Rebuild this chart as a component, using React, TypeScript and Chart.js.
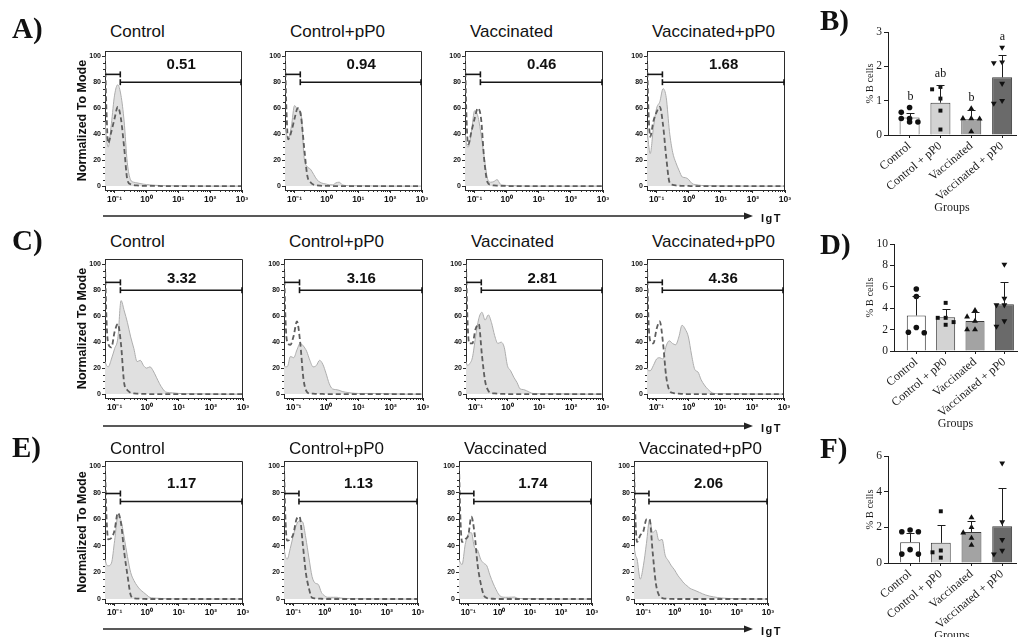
import React, { useEffect, useRef } from "react";
import { Chart, registerables } from "chart.js";
Chart.register(...registerables);

const SANS = '"Liberation Sans", Arial, Helvetica, sans-serif';
const SERIF = '"Liberation Serif", "Times New Roman", Times, serif';

// ---------- histogram data (x in log10 units of IgT, y = % of mode) ----------
const logX = [-1.3, -1.25, -1.2, -1.1, -1.0, -0.9, -0.8, -0.7, -0.6, -0.5, -0.4, -0.3, -0.2, -0.1, 0, 0.1, 0.2, 0.3, 0.4, 0.5, 0.6, 0.8, 1.0, 1.5, 2.0, 2.5, 3.0];
const xTickValues = [-1, 0, 1, 2, 3];
const xTickLabels = ["10⁻¹", "10⁰", "10¹", "10²", "10³"];
const yTickValues = [0, 20, 40, 60, 80, 100];
const histTitles = ["Control", "Control+pP0", "Vaccinated", "Vaccinated+pP0"];
const gateLogX = -0.82;

const fillA1 = [50, 36, 30, 48, 70, 78, 70, 50, 18, 5, 3, 2.5, 2, 1.5, 1.2, 1, 0.8, 0.6, 0.5, 0.4, 0.3, 0.2, 0.2, 0.1, 0, 0, 0];
const dashA1 = [100, 55, 33, 42, 52, 61, 52, 30, 5, 1.5, 0.8, 0.5, 0.3, 0.2, 0.2, 0.1, 0.1, 0.1, 0.1, 0, 0, 0, 0, 0, 0, 0, 0];
const fillA2 = [45, 40, 36, 46, 62, 59, 57, 22, 15, 13, 9, 5, 3, 2, 1.5, 1, 1, 2.5, 3, 1, 0.5, 0.3, 0.2, 0.1, 0, 0, 0];
const dashA2 = [100, 55, 36, 42, 52, 60, 54, 30, 8, 3, 1, 0.5, 0.3, 0.2, 0.1, 0.1, 0, 0, 0, 0, 0, 0, 0, 0, 0, 0, 0];
const fillA3 = [40, 32, 30, 42, 58, 54, 40, 22, 6, 3, 3.5, 5, 1.5, 0.8, 0.5, 0.4, 0.3, 0.2, 0.2, 0.1, 0.1, 0, 0, 0, 0, 0, 0];
const dashA3 = [100, 50, 32, 42, 52, 60, 52, 20, 3, 1, 0.5, 0.3, 0.2, 0.1, 0.1, 0, 0, 0, 0, 0, 0, 0, 0, 0, 0, 0, 0];
const fillA4 = [45, 32, 25, 45, 60, 65, 75, 68, 42, 26, 18, 12, 7, 6.5, 5, 2, 1.2, 0.8, 0.5, 0.4, 0.3, 0.2, 0.1, 0.1, 0, 0, 0];
const dashA4 = [100, 55, 38, 50, 57, 61, 47, 22, 3, 1, 0.5, 0.3, 0.2, 0.1, 0.1, 0, 0, 0, 0, 0, 0, 0, 0, 0, 0, 0, 0];

const fillC1 = [25, 22, 21, 27, 35, 43, 72, 64, 55, 44, 35, 25, 26, 22, 20, 21, 18, 13, 8, 4, 1.5, 1, 0.5, 0.2, 0.1, 0, 0];
const dashC1 = [100, 55, 39, 36, 48, 54, 38, 8, 3, 1, 0.5, 0.3, 0.2, 0.1, 0.1, 0, 0, 0, 0, 0, 0, 0, 0, 0, 0, 0, 0];
const fillC2 = [22, 21, 21, 29, 28, 34, 39, 37, 33, 26, 21, 22, 26, 23, 16, 8, 4, 3.5, 3, 2, 1.5, 0.8, 0.5, 0.5, 0.2, 0, 0];
const dashC2 = [100, 55, 40, 38, 45, 56, 40, 12, 2, 0.5, 0.3, 0.2, 0.1, 0.1, 0, 0, 0, 0, 0, 0, 0, 0, 0, 0, 0, 0, 0];
const fillC3 = [25, 22, 23, 28, 44, 58, 63, 57, 61, 55, 45, 39, 40, 36, 22, 18, 13, 9, 4, 3.5, 2.6, 0.5, 0.3, 0.2, 0.1, 0, 0];
const dashC3 = [100, 55, 39, 39, 50, 54, 30, 10, 2.6, 1, 0.5, 0.3, 0.2, 0.1, 0, 0, 0, 0, 0, 0, 0, 0, 0, 0, 0, 0, 0];
const fillC4 = [20, 18, 18, 22, 27, 28, 27, 37, 41, 39, 38, 44, 53, 50, 44, 30, 19, 17, 11, 7, 4, 0.5, 0.3, 0.2, 0.1, 0, 0];
const dashC4 = [100, 55, 41, 39, 50, 56, 40, 14, 3, 1, 0.5, 0.3, 0.2, 0.1, 0, 0, 0, 0, 0, 0, 0, 0, 0, 0, 0, 0, 0];

const fillE1 = [30, 26, 25, 27, 44, 62, 59, 46, 32, 20, 14, 10, 7, 5, 3, 1.2, 0.8, 0.6, 0.5, 0.3, 0.2, 0.1, 0.1, 0, 0, 0, 0];
const dashE1 = [100, 60, 45, 46, 52, 65, 57, 35, 18, 3, 0.5, 0.3, 0.2, 0.1, 0, 0, 0, 0, 0, 0, 0, 0, 0, 0, 0, 0, 0];
const fillE2 = [38, 32, 30, 38, 48, 56, 59, 58, 46, 31, 17, 12, 11, 5, 2.5, 1.3, 1.3, 1.3, 1.3, 0.8, 0.5, 0.3, 0.2, 0.1, 0, 0, 0];
const dashE2 = [100, 58, 44, 45, 49, 60, 62, 42, 20, 8, 1, 0.5, 0.3, 0.2, 0.1, 0, 0, 0, 0, 0, 0, 0, 0, 0, 0, 0, 0];
const fillE3 = [30, 27, 26, 41, 49, 50, 39, 37, 30, 27, 25, 18, 12, 7, 3, 1.5, 1.3, 1.3, 1.4, 1.5, 0.5, 0.3, 0.2, 0.1, 0, 0, 0];
const dashE3 = [100, 58, 43, 45, 48, 62, 50, 26, 12, 3, 0.8, 0.3, 0.2, 0.1, 0, 0, 0, 0, 0, 0, 0, 0, 0, 0, 0, 0, 0];
const fillE4 = [40, 33, 30, 15, 25, 42, 60, 50, 52, 44, 45, 33, 29, 25, 22, 18, 15, 12, 10, 8, 7, 5, 3, 0.8, 0.2, 0, 0];
const dashE4 = [100, 58, 43, 48, 51, 60, 60, 35, 12, 3, 0.8, 0.3, 0.2, 0.1, 0, 0, 0, 0, 0, 0, 0, 0, 0, 0, 0, 0, 0];

const pctRowA = ["0.51", "0.94", "0.46", "1.68"];
const pctRowC = ["3.32", "3.16", "2.81", "4.36"];
const pctRowE = ["1.17", "1.13", "1.74", "2.06"];

// gate levels (% of mode) per row: small bracket, main gate, label
const gateUpper = [86, 86, 79.5];
const gateMain = [80, 80, 73.5];
const gateLabel = [93, 89, 86.5];

// ---------- bar chart data ----------
const barGroups = ["Control", "Control + pP0", "Vaccinated", "Vaccinated + pP0"];
const barColors = ["#ffffff", "#d3d3d3", "#a3a3a3", "#6a6a6a"];
const markerStyles = ["circle", "rect", "triangle", "triangle"];
const markerRot = [0, 0, 0, 180];

const meanB = [0.51, 0.94, 0.46, 1.68];
const sdB = [0.12, 0.51, 0.27, 0.64];
const ptsB = [
  [0.80, 0.66, 0.48, 0.48, 0.38, 0.38],
  [1.40, 1.33, 1.06, 0.71, 0.16],
  [0.77, 0.48, 0.48, 0.47, 0.10],
  [2.55, 2.12, 2.10, 1.50, 1.00, 0.92],
];
const lettersB = ["b", "ab", "b", "a"];

const meanD = [3.32, 3.16, 2.81, 4.36];
const sdD = [1.8, 0.8, 0.8, 2.1];
const ptsD = [
  [5.8, 5.1, 2.2, 1.75, 1.7],
  [4.5, 3.1, 3.1, 2.7, 2.45],
  [3.8, 3.2, 2.8, 2.0, 2.0],
  [8.1, 4.9, 4.3, 4.3, 2.8, 2.3],
];

const meanF = [1.17, 1.13, 1.74, 2.06];
const sdF = [0.5, 1.0, 0.6, 2.13];
const ptsF = [
  [1.85, 1.75, 1.75, 0.75, 0.5, 0.5],
  [2.9, 0.7, 0.6, 0.3],
  [2.55, 2.0, 1.7, 1.4, 1.0],
  [5.6, 2.3, 1.3, 0.7, 0.5],
];

// ---------- layout ----------
const histRows = [
  { top: 51, bottom: 190, titleY: 31, arrowY: 216, lefts: [105, 285, 465, 647], rights: [242, 422, 603, 785], fills: [fillA1, fillA2, fillA3, fillA4], dashes: [dashA1, dashA2, dashA3, dashA4], pcts: pctRowA },
  { top: 259, bottom: 398, titleY: 241, arrowY: 426, lefts: [105, 284, 466, 647], rights: [243, 423, 603, 784], fills: [fillC1, fillC2, fillC3, fillC4], dashes: [dashC1, dashC2, dashC3, dashC4], pcts: pctRowC },
  { top: 461, bottom: 603, titleY: 448, arrowY: 629, lefts: [105, 284, 459, 634], rights: [243, 418, 592, 768], fills: [fillE1, fillE2, fillE3, fillE4], dashes: [dashE1, dashE2, dashE3, dashE4], pcts: pctRowE },
];

function line(ctx: any, x1: number, y1: number, x2: number, y2: number) {
  ctx.beginPath();
  ctx.moveTo(x1, y1);
  ctx.lineTo(x2, y2);
  ctx.stroke();
}

function HistPanel(props: any) {
  const { L, R, top, bottom, yTitle, fill, dash, pct, rowIdx } = props;
  const ref = useRef<HTMLCanvasElement>(null);
  const yw = yTitle ? 30 : 25;
  const padT = 8, padR = 10, xh = 24;
  const cw = yw + (R - L) + padR;
  const ch = padT + (bottom - top) + xh;
  useEffect(() => {
    const deco = {
      id: "histDeco",
      afterDraw(chart: any) {
        const { ctx, chartArea: a, scales } = chart;
        const x = scales.x, y = scales.y;
        ctx.save();
        ctx.strokeStyle = "#2b2b2b";
        ctx.lineWidth = 1;
        ctx.beginPath();
        ctx.moveTo(a.left, Math.round(a.top) + 0.5);
        ctx.lineTo(Math.round(a.right) - 0.5, Math.round(a.top) + 0.5);
        ctx.lineTo(Math.round(a.right) - 0.5, a.bottom);
        ctx.stroke();
        for (let v = 5; v < 100; v += 5) {
          if (v % 20 === 0) continue;
          const py = Math.round(y.getPixelForValue(v)) + 0.5;
          line(ctx, a.left - 2, py, a.left, py);
        }
        for (let d = -2; d <= 2; d++) {
          for (let k = 2; k <= 9; k++) {
            const lv = d + Math.log10(k);
            if (lv < -1.3 || lv > 3) continue;
            const px = Math.round(x.getPixelForValue(lv)) + 0.5;
            line(ctx, px, a.bottom, px, a.bottom + 2);
          }
        }
        const gx = x.getPixelForValue(gateLogX);
        const ym = y.getPixelForValue(gateMain[rowIdx]);
        const yu = y.getPixelForValue(gateUpper[rowIdx]);
        ctx.strokeStyle = "#161616";
        ctx.lineWidth = 1.6;
        line(ctx, gx, ym, a.right, ym);
        line(ctx, gx, ym - 3, gx, ym + 3);
        line(ctx, a.right - 1, ym - 3, a.right - 1, ym + 3);
        line(ctx, a.left, yu, gx, yu);
        line(ctx, gx, yu - 3, gx, yu + 3);
        ctx.fillStyle = "#111";
        ctx.font = `bold 15px ${SANS}`;
        ctx.textAlign = "center";
        ctx.textBaseline = "middle";
        ctx.fillText(pct, (gx + a.right) / 2, y.getPixelForValue(gateLabel[rowIdx]));
        ctx.restore();
      },
    };
    const chart = new Chart(ref.current as any, {
      type: "line",
      data: {
        datasets: [
          {
            data: logX.map((v, i) => ({ x: v, y: dash[i] })),
            borderColor: "#5e5e5e",
            borderDash: [5, 3],
            borderWidth: 1.8,
            pointRadius: 0,
            fill: false,
            cubicInterpolationMode: "monotone",
          },
          {
            data: logX.map((v, i) => ({ x: v, y: fill[i] })),
            borderColor: "#adadad",
            backgroundColor: "#e0e0e0",
            borderWidth: 1,
            pointRadius: 0,
            fill: "origin",
            cubicInterpolationMode: "monotone",
          },
        ],
      },
      options: {
        animation: false,
        responsive: false,
        devicePixelRatio: 1,
        layout: { padding: { left: 0, top: padT, right: padR, bottom: 0 } },
        plugins: { legend: { display: false }, tooltip: { enabled: false } },
        scales: {
          x: {
            type: "linear",
            min: -1.3,
            max: 3,
            afterBuildTicks: (s: any) => { s.ticks = xTickValues.map((v) => ({ value: v })); },
            afterFit: (s: any) => { s.height = xh; s.paddingLeft = 0; s.paddingRight = 0; },
            ticks: {
              autoSkip: false,
              maxRotation: 0,
              minRotation: 0,
              padding: 2,
              color: "#111",
              font: { family: SANS, size: 8.5, weight: "bold" },
              callback: (v: any) => xTickLabels[xTickValues.indexOf(Number(v))],
            },
            grid: { drawOnChartArea: false, tickLength: 3, color: "#2b2b2b" },
            border: { color: "#2b2b2b", width: 1 },
          },
          y: {
            min: -3,
            max: 104,
            afterBuildTicks: (s: any) => { s.ticks = yTickValues.map((v) => ({ value: v })); },
            afterFit: (s: any) => { s.width = yw; s.paddingTop = 0; s.paddingBottom = 0; },
            ticks: {
              padding: 1,
              color: "#111",
              font: { family: SANS, size: 7, weight: "bold" },
              callback: (v: any) => String(v),
            },
            title: {
              display: !!yTitle,
              text: "Normalized To Mode",
              color: "#111",
              padding: { top: 0, bottom: 0 },
              font: { family: SANS, size: 12.5, weight: "bold" },
            },
            grid: { drawOnChartArea: false, tickLength: 3, color: "#2b2b2b" },
            border: { color: "#2b2b2b", width: 1 },
          },
        },
      } as any,
      plugins: [deco],
    });
    return () => chart.destroy();
  }, []);
  return (
    <canvas
      ref={ref}
      width={cw}
      height={ch}
      style={{ position: "absolute", left: L - yw, top: top - padT, width: cw, height: ch }}
    />
  );
}

function swarm(vals: number[], tol: number): number[] {
  const order = vals.map((_, i) => i).sort((a, b) => vals[b] - vals[a]);
  const placed: { x: number; y: number }[] = [];
  const off = vals.map(() => 0);
  const cands = [0, -0.27, 0.27, -0.45, 0.45];
  for (const i of order) {
    for (const c of cands) {
      if (placed.every((p) => Math.abs(p.y - vals[i]) >= tol || Math.abs(p.x - c) >= 0.22)) {
        off[i] = c;
        placed.push({ x: c, y: vals[i] });
        break;
      }
    }
  }
  return off;
}

function BarPanel({ cfg }: any) {
  const ref = useRef<HTMLCanvasElement>(null);
  const { canvasLeft, canvasRight, axisX, plotTop, plotBottom, plotRight, xMin, xMax, yMax, yStep, means, sds, points, letters } = cfg;
  const padT = 12, xh = 83;
  const yw = axisX - canvasLeft;
  const cw = canvasRight - canvasLeft;
  const padR = canvasRight - plotRight;
  const ch = padT + (plotBottom - plotTop) + xh;
  useEffect(() => {
    const deco = {
      id: "barDeco",
      afterDatasetsDraw(chart: any) {
        const { ctx, scales } = chart;
        const x = scales.x, y = scales.y;
        ctx.save();
        ctx.strokeStyle = "#1e1e1e";
        ctx.lineWidth = 1;
        means.forEach((m: number, i: number) => {
          const px = Math.round(x.getPixelForValue(i)) + 0.5;
          const y0 = y.getPixelForValue(m);
          const y1 = Math.round(y.getPixelForValue(m + sds[i])) + 0.5;
          line(ctx, px, y0, px, y1);
          line(ctx, px - 4, y1, px + 4, y1);
          if (letters) {
            const topV = Math.max(m + sds[i], ...points[i]);
            ctx.fillStyle = "#111";
            ctx.font = `12px ${SERIF}`;
            ctx.textAlign = "center";
            ctx.textBaseline = "middle";
            ctx.fillText(letters[i], px, y.getPixelForValue(topV) - 11);
          }
        });
        ctx.restore();
      },
    };
    const scatterSets = points.map((vals: number[], g: number) => {
      const off = swarm(vals, yMax * 0.06);
      return {
        type: "scatter",
        order: 0,
        data: vals.map((v, i) => ({ x: g + off[i], y: v })),
        pointStyle: markerStyles[g],
        pointRotation: markerRot[g],
        pointRadius: g >= 2 ? 3.4 : 2.8,
        pointBackgroundColor: "#111",
        pointBorderColor: "#111",
        pointBorderWidth: 0,
      };
    });
    const chart = new Chart(ref.current as any, {
      type: "bar",
      data: {
        datasets: [
          ...scatterSets,
          {
            type: "bar",
            order: 1,
            data: means.map((m: number, i: number) => ({ x: i, y: m })),
            backgroundColor: barColors,
            borderColor: "#3a3a3a",
            borderWidth: 1,
            categoryPercentage: 0.72,
            barPercentage: 0.9,
          },
        ],
      },
      options: {
        animation: false,
        responsive: false,
        devicePixelRatio: 1,
        layout: { padding: { left: 0, top: padT, right: padR, bottom: 0 } },
        plugins: { legend: { display: false }, tooltip: { enabled: false } },
        scales: {
          x: {
            type: "linear",
            offset: false,
            min: xMin,
            max: xMax,
            afterBuildTicks: (s: any) => { s.ticks = barGroups.map((_, i) => ({ value: i })); },
            afterFit: (s: any) => { s.height = xh; s.paddingLeft = 0; s.paddingRight = 0; },
            ticks: {
              autoSkip: false,
              minRotation: 40,
              maxRotation: 40,
              padding: 1,
              color: "#1a1a1a",
              font: { family: SERIF, size: 12 },
              callback: (v: any) => barGroups[Number(v)] ?? "",
            },
            title: {
              display: true,
              text: "Groups",
              color: "#1a1a1a",
              padding: { top: 0, bottom: 3 },
              font: { family: SERIF, size: 12 },
            },
            grid: { drawOnChartArea: false, offset: false, tickLength: 3, color: "#1e1e1e" },
            border: { color: "#1e1e1e", width: 1 },
          },
          y: {
            min: 0,
            max: yMax,
            afterFit: (s: any) => { s.width = yw; s.paddingTop = 0; s.paddingBottom = 0; },
            ticks: {
              stepSize: yStep,
              padding: 2,
              color: "#1a1a1a",
              font: { family: SERIF, size: 11.5 },
            },
            title: {
              display: true,
              text: "% B cells",
              color: "#1a1a1a",
              padding: { top: 1, bottom: 0 },
              font: { family: SERIF, size: 10.5 },
            },
            grid: { drawOnChartArea: false, tickLength: 4, color: "#1e1e1e" },
            border: { color: "#1e1e1e", width: 1 },
          },
        },
      } as any,
      plugins: [deco],
    });
    return () => chart.destroy();
  }, []);
  return (
    <canvas
      ref={ref}
      width={cw}
      height={ch}
      style={{ position: "absolute", left: canvasLeft, top: plotTop - padT, width: cw, height: ch }}
    />
  );
}

const barPanels = [
  { canvasLeft: 863, canvasRight: 1021, axisX: 888, plotTop: 32, plotBottom: 135, plotRight: 1016, xMin: -0.7, xMax: 3.45, yMax: 3, yStep: 1, means: meanB, sds: sdB, points: ptsB, letters: lettersB },
  { canvasLeft: 863, canvasRight: 1021, axisX: 894, plotTop: 244, plotBottom: 351, plotRight: 1021, xMin: -0.76, xMax: 3.43, yMax: 10, yStep: 2, means: meanD, sds: sdD, points: ptsD, letters: null },
  { canvasLeft: 863, canvasRight: 1021, axisX: 888, plotTop: 456, plotBottom: 563, plotRight: 1016, xMin: -0.72, xMax: 3.45, yMax: 6, yStep: 2, means: meanF, sds: sdF, points: ptsF, letters: null },
];

const panelLetters = [
  { t: "A)", x: 12, y: 28 },
  { t: "B)", x: 820, y: 20 },
  { t: "C)", x: 12, y: 240 },
  { t: "D)", x: 820, y: 244 },
  { t: "E)", x: 12, y: 447 },
  { t: "F)", x: 820, y: 448 },
];

function Text({ x, y, children, style }: any) {
  return (
    <div
      style={{
        position: "absolute",
        left: x,
        top: y,
        transform: "translateY(-50%)",
        whiteSpace: "nowrap",
        lineHeight: 1,
        ...style,
      }}
    >
      {children}
    </div>
  );
}

export default function App() {
  useEffect(() => {
    document.body.style.overflow = "hidden";
  }, []);
  return (
    <div style={{ position: "absolute", left: 0, top: 0, width: 1021, height: 637, overflow: "hidden", background: "#fff" }}>
      {histRows.map((row, r) =>
        row.lefts.map((L, c) => (
          <React.Fragment key={`h${r}-${c}`}>
            <HistPanel
              L={L}
              R={row.rights[c]}
              top={row.top}
              bottom={row.bottom}
              yTitle={c === 0}
              fill={row.fills[c]}
              dash={row.dashes[c]}
              pct={row.pcts[c]}
              rowIdx={r}
            />
            <Text x={L + 5} y={row.titleY} style={{ fontFamily: SANS, fontSize: 17, color: "#111" }}>
              {histTitles[c]}
            </Text>
          </React.Fragment>
        ))
      )}
      <svg width={1021} height={637} style={{ position: "absolute", left: 0, top: 0, pointerEvents: "none" }}>
        {histRows.map((row, r) => (
          <g key={`a${r}`}>
            <line x1={103} y1={row.arrowY} x2={746} y2={row.arrowY} stroke="#222" strokeWidth={1.5} />
            <polygon points={`${744},${row.arrowY - 3.5} ${753},${row.arrowY} ${744},${row.arrowY + 3.5}`} fill="#222" />
          </g>
        ))}
      </svg>
      {histRows.map((row, r) => (
        <Text key={`igt${r}`} x={761} y={row.arrowY + 2} style={{ fontFamily: SANS, fontSize: 11, fontWeight: "bold", letterSpacing: 1.5, color: "#111" }}>
          IgT
        </Text>
      ))}
      {barPanels.map((cfg, i) => (
        <BarPanel key={`b${i}`} cfg={cfg} />
      ))}
      {panelLetters.map((p) => (
        <Text key={p.t} x={p.x} y={p.y} style={{ fontFamily: SERIF, fontSize: 29, fontWeight: "bold", color: "#111" }}>
          {p.t}
        </Text>
      ))}
    </div>
  );
}
